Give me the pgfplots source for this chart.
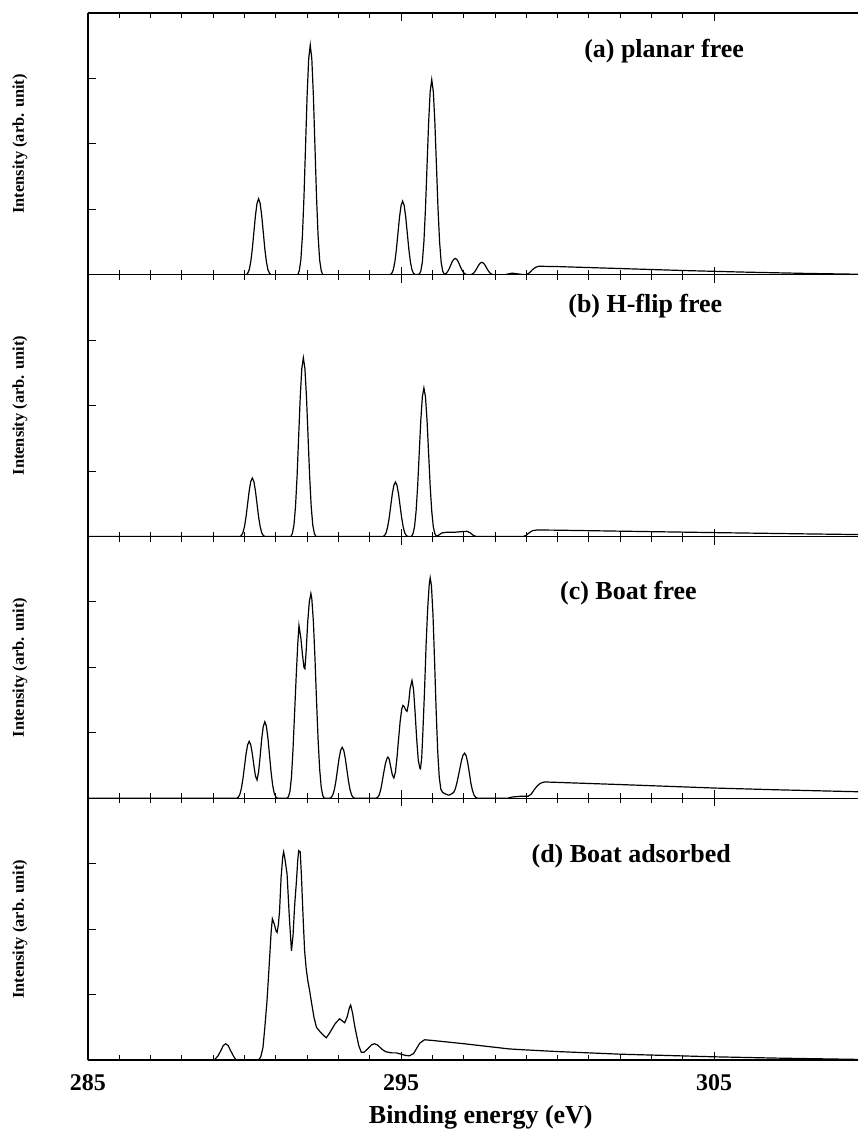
\documentclass[border=0pt]{standalone}
\usepackage{fontspec}
\setmainfont{Liberation Serif}
\usepackage{pgfplots}
\pgfplotsset{compat=1.18}
\usepgfplotslibrary{groupplots}
\usetikzlibrary{calc}
\tikzset{ttl/.style={font=\bfseries\fontsize{13}{15}\selectfont, anchor=center}}
\begin{document}
\begin{tikzpicture}
\pgfplotsset{
  panel/.style={
    width=385.5pt, height=131pt, scale only axis,
    xmin=285, xmax=309.6, ymin=0, ymax=4,
    axis x line*=box, axis y line*=left,
    axis line style={-, line width=0.6pt},
    xtick={285,295,305}, minor x tick num=9,
    ytick={1,2,3}, yticklabels={},
    xtick pos=both, ytick pos=left, tick align=inside,
    major tick length=4pt, minor tick length=2.5pt,
    every tick/.style={black, line width=0.5pt},
    ylabel={Intensity (arb. unit)},
    ylabel style={at={(axis description cs:-0.0882,0.5)}, anchor=center, font=\bfseries\fontsize{8.2}{9}\selectfont},
    /pgf/number format/assume math mode=true,
    ticklabel style={font=\bfseries\fontsize{12}{14}\selectfont},
    xticklabel style={yshift=-3.5pt},
  },
  curve/.style={black, line width=0.6pt, mark=none},
}
\begin{groupplot}[group style={group size=1 by 4, vertical sep=0pt}, panel]
% (a) planar free
\nextgroupplot[xticklabels={}]
\addplot[curve] coordinates {
(285,0) (290.05,0) (290.10,0.021) (290.15,0.075) (290.20,0.197) (290.25,0.394) (290.30,0.650) (290.35,0.905) (290.40,1.090) (290.45,1.160) (290.50,1.090) (290.55,0.905) (290.60,0.650) (290.65,0.394) (290.70,0.197) (290.75,0.075) (290.80,0.021) (290.85,0)
(291.70,0) (291.75,0.063) (291.80,0.228) (291.85,0.597) (291.90,1.193) (291.95,1.966) (292.00,2.738) (292.05,3.299) (292.10,3.510) (292.15,3.299) (292.20,2.738) (292.25,1.966) (292.30,1.193) (292.35,0.597) (292.40,0.228) (292.45,0.063) (292.50,0)
(294.65,0) (294.70,0.020) (294.75,0.073) (294.80,0.191) (294.85,0.383) (294.90,0.630) (294.95,0.878) (295.00,1.058) (295.05,1.125) (295.10,1.058) (295.15,0.878) (295.20,0.630) (295.25,0.383) (295.30,0.191) (295.35,0.073) (295.40,0.020) (295.45,0.005) (295.52,0.005)
(295.58,0.01) (295.63,0.054) (295.68,0.194) (295.73,0.507) (295.78,1.013) (295.83,1.669) (295.88,2.324) (295.93,2.801) (295.98,2.980) (296.03,2.801) (296.08,2.324) (296.13,1.669) (296.18,1.013) (296.23,0.507) (296.28,0.194) (296.33,0.054) (296.38,0.01)
(296.43,0.016) (296.48,0.043) (296.53,0.085) (296.58,0.140) (296.63,0.195) (296.68,0.235) (296.73,0.250) (296.78,0.235) (296.83,0.195) (296.88,0.140) (296.93,0.085) (296.98,0.043) (297.03,0.016) (297.08,0.004) (297.18,0)
(297.23,0.003) (297.28,0.012) (297.33,0.032) (297.38,0.065) (297.43,0.106) (297.48,0.148) (297.53,0.179) (297.58,0.190) (297.63,0.179) (297.68,0.148) (297.73,0.106) (297.78,0.065) (297.83,0.032) (297.88,0.012) (297.93,0.003) (297.98,0)
(298.30,0) (298.45,0.015) (298.55,0.025) (298.70,0.015) (298.90,0.003) (299.00,0) (299.10,0.03) (299.20,0.08) (299.30,0.115) (299.40,0.13) (300,0.125) (302,0.095) (304,0.065) (306,0.04) (308,0.02) (309.6,0.008)
};
\node[ttl] at (axis cs:303.4,3.41) {(a) planar free};
% (b) H-flip free
\nextgroupplot[xticklabels={}]
\addplot[curve] coordinates {
(285,0) (289.85,0) (289.90,0.016) (289.95,0.058) (290.00,0.152) (290.05,0.304) (290.10,0.501) (290.15,0.697) (290.20,0.840) (290.25,0.894) (290.30,0.840) (290.35,0.697) (290.40,0.501) (290.45,0.304) (290.50,0.152) (290.55,0.058) (290.60,0.016) (290.65,0)
(291.48,0) (291.53,0.049) (291.58,0.177) (291.63,0.464) (291.68,0.928) (291.73,1.529) (291.78,2.129) (291.83,2.566) (291.88,2.730) (291.93,2.566) (291.98,2.129) (292.03,1.529) (292.08,0.928) (292.13,0.464) (292.18,0.177) (292.23,0.049) (292.28,0)
(294.42,0) (294.47,0.015) (294.52,0.054) (294.57,0.142) (294.62,0.283) (294.67,0.466) (294.72,0.650) (294.77,0.783) (294.82,0.833) (294.87,0.783) (294.92,0.650) (294.97,0.466) (295.02,0.283) (295.07,0.142) (295.12,0.054) (295.17,0.015) (295.22,0) (295.33,0)
(295.38,0.041) (295.43,0.148) (295.48,0.386) (295.53,0.772) (295.58,1.271) (295.63,1.771) (295.68,2.134) (295.73,2.270) (295.78,2.134) (295.83,1.771) (295.88,1.271) (295.93,0.772) (295.98,0.386) (296.03,0.148) (296.08,0.041) (296.13,0.005)
(296.20,0.02) (296.30,0.055) (296.45,0.065) (296.70,0.065) (296.95,0.075) (297.10,0.08) (297.20,0.06) (297.30,0.02) (297.40,0)
(298.90,0) (299.00,0.02) (299.10,0.06) (299.20,0.09) (299.35,0.10) (300,0.097) (302,0.082) (305,0.06) (308,0.04) (309.6,0.03)
};
\node[ttl] at (axis cs:302.8,3.52) {(b) H-flip free};
% (c) Boat free
\nextgroupplot[xticklabels={}]
\addplot[curve] coordinates {
(285,0) (289.75,0) (289.80,0.016) (289.85,0.057) (289.90,0.148) (289.95,0.296) (290.00,0.487) (290.05,0.679) (290.10,0.818) (290.15,0.870) (290.20,0.818) (290.25,0.679) (290.30,0.50) (290.35,0.34) (290.40,0.28) (290.45,0.40) (290.50,0.64) (290.55,0.913) (290.60,1.100) (290.65,1.170) (290.70,1.100) (290.75,0.913) (290.80,0.655) (290.85,0.398) (290.90,0.199) (290.95,0.076) (291.00,0.021) (291.05,0)
(291.35,0) (291.40,0.02) (291.45,0.10) (291.50,0.32) (291.55,0.75) (291.60,1.30) (291.65,1.85) (291.70,2.35) (291.74,2.64) (291.80,2.45) (291.85,2.20) (291.90,2.00) (291.93,1.98) (291.97,2.25) (292.02,2.70) (292.07,3.00) (292.12,3.13) (292.15,3.05) (292.20,2.70) (292.25,2.15) (292.30,1.50) (292.35,0.90) (292.40,0.45) (292.45,0.17) (292.50,0.04) (292.55,0)
(292.72,0) (292.77,0.014) (292.82,0.051) (292.87,0.133) (292.92,0.265) (292.97,0.437) (293.02,0.608) (293.07,0.733) (293.12,0.780) (293.17,0.733) (293.22,0.608) (293.27,0.437) (293.32,0.265) (293.37,0.133) (293.42,0.051) (293.47,0.014) (293.52,0)
(294.20,0) (294.25,0.015) (294.30,0.05) (294.35,0.13) (294.40,0.26) (294.45,0.40) (294.50,0.53) (294.55,0.61) (294.58,0.63) (294.62,0.60) (294.67,0.48) (294.72,0.36) (294.77,0.31) (294.82,0.40) (294.87,0.62) (294.92,0.90) (294.97,1.17) (295.02,1.36) (295.06,1.42) (295.10,1.40) (295.15,1.35) (295.19,1.33) (295.24,1.45) (295.29,1.68) (295.35,1.80) (295.40,1.66) (295.45,1.30) (295.50,0.90) (295.55,0.58) (295.60,0.46) (295.62,0.45) (295.66,0.62) (295.70,1.05) (295.75,1.65) (295.80,2.35) (295.85,2.90) (295.90,3.27) (295.93,3.37) (295.97,3.25) (296.02,2.80) (296.07,2.10) (296.12,1.35) (296.17,0.72) (296.22,0.32) (296.27,0.14) (296.33,0.09) (296.40,0.07) (296.50,0.05) (296.55,0.05) (296.62,0.07)
(296.68,0.09) (296.73,0.14) (296.78,0.23) (296.83,0.34) (296.88,0.46) (296.93,0.58) (296.98,0.66) (297.03,0.69) (297.08,0.65) (297.13,0.54) (297.18,0.39) (297.23,0.23) (297.28,0.12) (297.33,0.05) (297.38,0.015) (297.45,0)
(298.40,0) (298.55,0.02) (298.80,0.03) (299.05,0.03) (299.15,0.06) (299.25,0.13) (299.35,0.19) (299.45,0.23) (299.58,0.25) (302,0.21) (305,0.157) (307,0.13) (309.6,0.10)
};
\node[ttl] at (axis cs:302.26,3.14) {(c) Boat free};
% (d) Boat adsorbed
\nextgroupplot[xlabel={Binding energy (eV)},
  xlabel style={at={(axis description cs:0.51,0)}, anchor=center, yshift=-28.5pt, font=\bfseries\fontsize{13}{15}\selectfont}]
\addplot[curve] coordinates {
(285,0) (289.00,0) (289.05,0.01) (289.15,0.06) (289.25,0.15) (289.32,0.22) (289.40,0.25) (289.48,0.22) (289.55,0.15) (289.65,0.06) (289.72,0.01) (289.76,0)
(290.45,0) (290.52,0.05) (290.59,0.19) (290.65,0.50) (290.72,0.91) (290.77,1.30) (290.81,1.62) (290.85,1.95) (290.89,2.16) (290.95,2.08) (291.01,1.97) (291.04,1.95) (291.08,2.06) (291.12,2.28) (291.17,2.80) (291.22,3.10) (291.25,3.18) (291.29,3.08) (291.36,2.84) (291.43,2.20) (291.50,1.67)
(291.55,1.90) (291.60,2.35) (291.66,2.74) (291.70,3.05) (291.73,3.20) (291.78,3.18) (291.82,2.80) (291.87,2.20) (291.92,1.67) (291.97,1.40) (292.02,1.22) (292.08,1.06) (292.15,0.85) (292.22,0.65) (292.30,0.50) (292.40,0.44) (292.50,0.39) (292.61,0.34) (292.70,0.40) (292.80,0.48) (292.90,0.56) (293.04,0.63) (293.12,0.60) (293.20,0.57) (293.28,0.66) (293.35,0.80) (293.39,0.84) (293.45,0.72) (293.52,0.52) (293.57,0.40) (293.65,0.22) (293.73,0.12)
(293.82,0.12) (293.95,0.18) (294.05,0.23) (294.15,0.25) (294.25,0.23) (294.38,0.17) (294.50,0.13) (294.58,0.12) (294.70,0.11) (294.85,0.11) (295.00,0.09) (295.15,0.07) (295.27,0.066) (295.40,0.10) (295.50,0.18) (295.60,0.26) (295.75,0.31)
(296.00,0.30) (297.00,0.25) (298.46,0.17) (299.00,0.155) (300.00,0.13) (302.00,0.09) (305.00,0.05) (307.00,0.03) (309.6,0.01)
};
\node[ttl] at (axis cs:302.35,3.12) {(d) Boat adsorbed};
\end{groupplot}
\pgfresetboundingbox
\path[use as bounding box] ($(group c1r1.north west)+(-44pt,6.5pt)$) rectangle ($(group c1r4.south east)+(0pt,-35pt)$);
\end{tikzpicture}
\end{document}
